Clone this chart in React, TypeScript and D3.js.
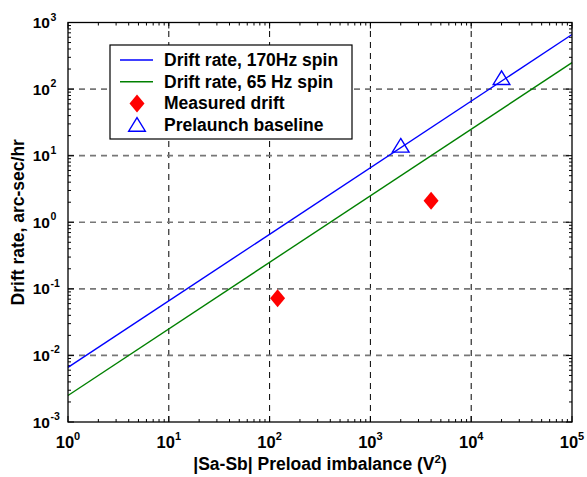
import * as d3 from 'd3';

// slope-1 drift lines, endpoints
const lineX = [1, 1e5];
const drift170 = [0.0066, 660];
const drift65 = [0.0025, 250];

const measuredX = [120, 4000];
const measuredY = [0.072, 2.1];

const prelaunchX = [2000, 20000];
const prelaunchY = [13.5, 140];

const xDecades = [0, 1, 2, 3, 4, 5];
const yDecades = [-3, -2, -1, 0, 1, 2, 3];

const legendItems = [
  { label: 'Drift rate, 170Hz spin', kind: 'line', color: '#0000ff' },
  { label: 'Drift rate, 65 Hz spin', kind: 'line', color: '#008000' },
  { label: 'Measured drift', kind: 'diamond', color: '#ff0000' },
  { label: 'Prelaunch baseline', kind: 'triangle', color: '#0000ff' },
];

export default function App() {
  const width = 587;
  const height = 477;
  const marginLeft = 68;
  const marginRight = 15;
  const marginTop = 22.5;
  const marginBottom = 55;

  const x = d3.scaleLog().domain([1, 1e5]).range([marginLeft, width - marginRight]);
  const y = d3.scaleLog().domain([1e-3, 1e3]).range([height - marginBottom, marginTop]);

  const x0 = marginLeft, x1 = width - marginRight;
  const y0 = height - marginBottom, y1 = marginTop;

  const line = d3.line<[number, number]>().x(d => x(d[0])).y(d => y(d[1]));

  const minorX: number[] = [];
  xDecades.slice(0, -1).forEach(p => { for (let k = 2; k < 10; k++) minorX.push(k * 10 ** p); });
  const minorY: number[] = [];
  yDecades.slice(0, -1).forEach(p => { for (let k = 2; k < 10; k++) minorY.push(k * 10 ** p); });

  const font = 'Liberation Sans, Arial, Helvetica, sans-serif';
  const diamond = (cx: number, cy: number) =>
    `M${cx},${cy - 9}L${cx + 7.5},${cy}L${cx},${cy + 9}L${cx - 7.5},${cy}Z`;
  const tri = (cx: number, cy: number, r: number) =>
    `M${cx},${cy - r}L${cx + r * 0.98},${cy + r * 0.6}L${cx - r * 0.98},${cy + r * 0.6}Z`;

  const lg = { x: 110, y: 45, w: 242, h: 94 };

  return (
    <svg width={width} height={height} style={{ position: 'absolute', left: 0, top: 0 }} fontFamily={font}>
      <rect width={width} height={height} fill="white" />
      {/* grid */}
      {xDecades.slice(1, -1).map(p => (
        <line key={'gx' + p} x1={x(10 ** p)} x2={x(10 ** p)} y1={y0} y2={y1}
          stroke="#000" strokeWidth={1} strokeDasharray="6,5" />
      ))}
      {yDecades.slice(1, -1).map(p => (
        <line key={'gy' + p} x1={x0} x2={x1} y1={y(10 ** p)} y2={y(10 ** p)}
          stroke="#777" strokeWidth={1.6} strokeDasharray="6,5" />
      ))}
      {/* ticks */}
      {xDecades.map(p => (
        <g key={'tx' + p}>
          <line x1={x(10 ** p)} x2={x(10 ** p)} y1={y0} y2={y0 - 6} stroke="#000" />
          <line x1={x(10 ** p)} x2={x(10 ** p)} y1={y1} y2={y1 + 6} stroke="#000" />
        </g>
      ))}
      {minorX.map((v, i) => (
        <g key={'mx' + i}>
          <line x1={x(v)} x2={x(v)} y1={y0} y2={y0 - 3} stroke="#000" />
          <line x1={x(v)} x2={x(v)} y1={y1} y2={y1 + 3} stroke="#000" />
        </g>
      ))}
      {yDecades.map(p => (
        <g key={'ty' + p}>
          <line x1={x0} x2={x0 + 6} y1={y(10 ** p)} y2={y(10 ** p)} stroke="#000" />
          <line x1={x1} x2={x1 - 6} y1={y(10 ** p)} y2={y(10 ** p)} stroke="#000" />
        </g>
      ))}
      {minorY.map((v, i) => (
        <g key={'my' + i}>
          <line x1={x0} x2={x0 + 3} y1={y(v)} y2={y(v)} stroke="#000" />
          <line x1={x1} x2={x1 - 3} y1={y(v)} y2={y(v)} stroke="#000" />
        </g>
      ))}
      {/* data */}
      <path d={line(lineX.map((v, i) => [v, drift170[i]]) as [number, number][]) || ''} fill="none" stroke="#0000ff" strokeWidth={1.4} />
      <path d={line(lineX.map((v, i) => [v, drift65[i]]) as [number, number][]) || ''} fill="none" stroke="#008000" strokeWidth={1.4} />
      {measuredX.map((v, i) => (
        <path key={'m' + i} d={diamond(x(v), y(measuredY[i]))} fill="#ff0000" />
      ))}
      {prelaunchX.map((v, i) => (
        <path key={'p' + i} d={tri(x(v), y(prelaunchY[i]), 8.5)} fill="none" stroke="#0000ff" strokeWidth={1.4} />
      ))}
      {/* box */}
      <rect x={x0} y={y1} width={x1 - x0} height={y0 - y1} fill="none" stroke="#000" strokeWidth={1.3} />
      {/* tick labels */}
      {xDecades.map(p => (
        <text key={'lx' + p} x={x(10 ** p)} y={y0 + 26} textAnchor="middle" fontSize={16.5} fontWeight="bold">
          10<tspan dy={-8} fontSize={11}>{p}</tspan>
        </text>
      ))}
      {yDecades.map(p => (
        <text key={'ly' + p} x={x0 - 18} y={y(10 ** p) + 5.5} textAnchor="end" fontSize={15.5} fontWeight="bold">
          10<tspan x={x0 - 17.5} dy={-7.5} fontSize={10.5} textAnchor="start">{p}</tspan>
        </text>
      ))}
      {/* axis titles */}
      <text x={(x0 + x1) / 2} y={470} textAnchor="middle" fontSize={17.5} fontWeight="bold">
        |Sa-Sb| Preload imbalance (V<tspan dy={-7} fontSize={11.5}>2</tspan><tspan dy={7}>)</tspan>
      </text>
      <text transform={`translate(24,${(y0 + y1) / 2}) rotate(-90)`} textAnchor="middle" fontSize={17.5} fontWeight="bold">
        Drift rate, arc-sec/hr
      </text>
      {/* legend */}
      <rect x={lg.x} y={lg.y} width={lg.w} height={lg.h} fill="white" stroke="#000" strokeWidth={1.2} />
      {legendItems.map((it, i) => {
        const cy = 60 + i * 21.7;
        return (
          <g key={it.label}>
            {it.kind === 'line' && <line x1={120} x2={153} y1={cy} y2={cy} stroke={it.color} strokeWidth={1.4} />}
            {it.kind === 'diamond' && <path d={diamond(137, cy)} fill={it.color} />}
            {it.kind === 'triangle' && <path d={tri(137, cy + 1, 8.5)} fill="none" stroke={it.color} strokeWidth={1.4} />}
            <text x={164} y={cy + 6} fontSize={17.5} fontWeight="bold">{it.label}</text>
          </g>
        );
      })}
    </svg>
  );
}
